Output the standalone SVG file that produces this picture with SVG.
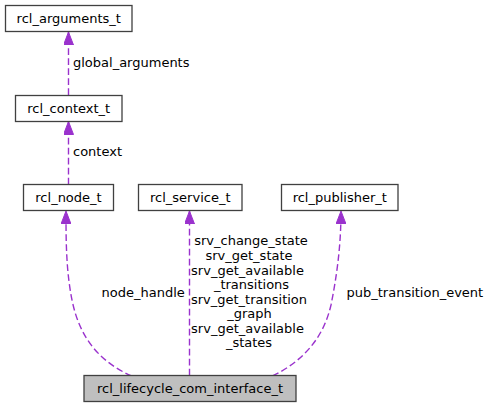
<svg xmlns="http://www.w3.org/2000/svg" width="489" height="408" viewBox="0 0 489 408">
<defs>
<style>
text { font-family: "DejaVu Sans", sans-serif; font-size: 13px; fill: #000; }
.box { fill: #fff; stroke: #404040; stroke-width: 1.3; }
.main { fill: #bfbfbf; stroke: #404040; stroke-width: 1.3; }
.edge { fill: none; stroke: #9a32cd; stroke-width: 1.4; stroke-dasharray: 6.7,3.3; }
.c { text-anchor: middle; }
</style>
<marker id="ah" viewBox="0 0 13 10" refX="13" refY="5" markerWidth="13" markerHeight="10" markerUnits="userSpaceOnUse" orient="auto">
<path d="M0,0 L13,5 L0,10 Z" fill="#9a32cd" stroke="#9a32cd"/>
</marker>
</defs>
<rect width="489" height="408" fill="#fff"/>
<g id="connectors">
<path class="edge" d="M68.5,95 L68.5,32" marker-end="url(#ah)"/>
<path class="edge" d="M68.5,184.5 L68.5,121.5" marker-end="url(#ah)"/>
<path class="edge" d="M131.5,376 C101,362 80,340 72,300 C66,270 66,240 66,211" marker-end="url(#ah)"/>
<path class="edge" d="M189.5,375.5 L189.5,211" marker-end="url(#ah)"/>
<path class="edge" d="M272.5,376 C301,362 323,340 331,305 C337,275 341,245 341,211" marker-end="url(#ah)"/>
<text x="73" y="67">global_arguments</text>
<text x="73" y="156">context</text>
<text x="101.5" y="297">node_handle</text>
<text x="346.5" y="297">pub_transition_event</text>
<text class="c" x="251" y="245">srv_change_state</text>
<text class="c" x="249" y="260">srv_get_state</text>
<text class="c" x="247.5" y="274.5">srv_get_available</text>
<text class="c" x="251.5" y="289">_transitions</text>
<text class="c" x="249" y="303.5">srv_get_transition</text>
<text class="c" x="249.5" y="318">_graph</text>
<text class="c" x="247.5" y="332.5">srv_get_available</text>
<text class="c" x="249" y="347">_states</text>
</g>
<g id="rcl_arguments_t">
<rect class="box" x="5.5" y="5.5" width="126.5" height="26"/>
<text class="c" x="68.75" y="23">rcl_arguments_t</text>
</g>
<g id="rcl_context_t">
<rect class="box" x="15.5" y="95.5" width="106.5" height="26"/>
<text class="c" x="68.75" y="113">rcl_context_t</text>
</g>
<g id="rcl_node_t">
<rect class="box" x="23.5" y="184.5" width="90" height="26"/>
<text class="c" x="68.5" y="202">rcl_node_t</text>
</g>
<g id="rcl_service_t">
<rect class="box" x="138.5" y="184.5" width="103.5" height="26"/>
<text class="c" x="190.25" y="202">rcl_service_t</text>
</g>
<g id="rcl_publisher_t">
<rect class="box" x="281.5" y="184.5" width="116.5" height="26"/>
<text class="c" x="339.75" y="202">rcl_publisher_t</text>
</g>
<g id="rcl_lifecycle_com_interface_t">
<rect class="main" x="84" y="375.5" width="212" height="26"/>
<text class="c" x="190" y="393">rcl_lifecycle_com_interface_t</text>
</g>
</svg>
